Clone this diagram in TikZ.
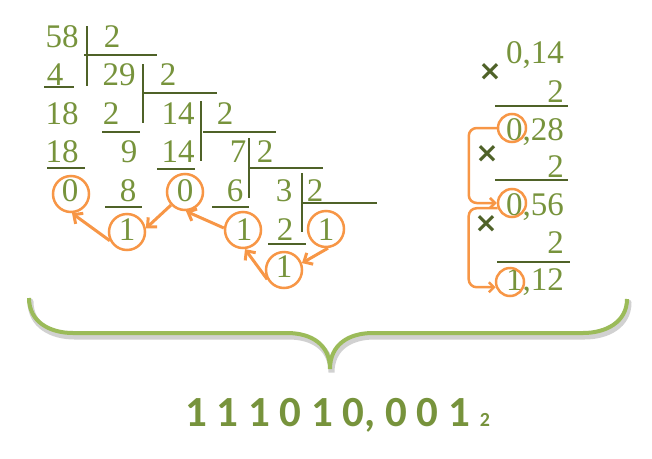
\documentclass[tikz,border=0pt]{standalone}
\usepackage{fontspec}
\setmainfont{Liberation Serif}
\newfontfamily\carlito{Carlito}
\newfontfamily\dejavu{DejaVu Sans}
\usetikzlibrary{arrows.meta}
\definecolor{txtgreen}{HTML}{77933C}
\definecolor{linegreen}{HTML}{4F6228}
\definecolor{bracegreen}{HTML}{9BBB59}
\definecolor{orng}{HTML}{F79646}
\begin{document}
\begin{tikzpicture}[x=1pt,y=-1pt,
  num/.style={text=txtgreen, font=\fontsize{33}{33}\selectfont, inner sep=0pt, anchor=base},
  rnum/.style={num, anchor=base east},
  rule/.style={draw=linegreen, line width=2.5pt},
  ring/.style={circle, draw=orng, line width=2.5pt, minimum size=36pt, inner sep=0pt},
  sring/.style={ring, minimum size=28pt},
  link/.style={draw=orng, line width=3pt, -{Straight Barb[length=7pt,width=13pt]}},
  slink/.style={draw=orng, line width=2.5pt, rounded corners=8pt, -{Straight Barb[length=5pt,width=10pt]}},
  timesign/.style={text=linegreen, font=\dejavu\bfseries\fontsize{28}{28}\selectfont, inner sep=0pt},
]
\path[use as bounding box] (0,0) rectangle (652,458);

% ---- long division texts
\node[num] (t58) at (62,47) {58};
\node[num] (d1) at (112,47) {2};
\node[num] (t4) at (55,85) {4};
\node[num] (t29) at (119,85) {29};
\node[num] (d2) at (168,85) {2};
\node[num] (t18a) at (62,124) {18};
\node[num] (t2a) at (111,124) {2};
\node[num] (t14a) at (178,124) {14};
\node[num] (d3) at (225,124) {2};
\node[num] (t18b) at (62,162) {18};
\node[num] (t9) at (129,162) {9};
\node[num] (t14b) at (178,162) {14};
\node[num] (t7) at (238,162) {7};
\node[num] (d4) at (265,162) {2};
\node[num] (t0a) at (70,201) {0};
\node[num] (t8) at (128,201) {8};
\node[num] (t0b) at (185,201) {0};
\node[num] (t6) at (235,201) {6};
\node[num] (t3) at (284,201) {3};
\node[num] (d5) at (315,201) {2};
\node[num] (t1a) at (127,240) {1};
\node[num] (t1b) at (244,240) {1};
\node[num] (t2b) at (285,240) {2};
\node[num] (t1c) at (326,240) {1};
\node[num] (t1d) at (284,277) {1};

% ---- division rules
\draw[rule] (87,26) -- (87,86);
\draw[rule] (84,55) -- (157,55);
\draw[rule] (44,87) -- (74,87);
\draw[rule] (143,64) -- (143,123);
\draw[rule] (143,93) -- (217,93);
\draw[rule] (102,132) -- (140,132);
\draw[rule] (201,101) -- (201,161);
\draw[rule] (203,132) -- (276,132);
\draw[rule] (47,168) -- (85,168);
\draw[rule] (157,169) -- (195,169);
\draw[rule] (249,138) -- (249,198);
\draw[rule] (249,168) -- (323,168);
\draw[rule] (105,207) -- (142,207);
\draw[rule] (212,207) -- (249,207);
\draw[rule] (302,173) -- (302,232);
\draw[rule] (303,203) -- (377,203);
\draw[rule] (268,244) -- (306,244);

% ---- rings
\node[ring] (c0a) at (71,194) {};
\node[ring] (c0b) at (185,192) {};
\node[ring] (c1a) at (127,232) {};
\node[ring] (c1b) at (243,230) {};
\node[ring] (c1c) at (326,229) {};
\node[ring] (c1d) at (284,270) {};

\draw[link] (c1a.207) -- (c0a.-87);
\draw[link] (c0b.223) -- (c1a.11);
\draw[link] (c1b.174) -- (c0b.-87);
\draw[link] (c1d.209) -- (c1b.-84);
\draw[link] (c1c.-84) -- (c1d.21);

% ---- multiplication
\node[timesign] (x1) at (490,72) {×};
\node[rnum] (r014) at (564,63) {0,14};
\node[rnum] (r2a) at (564,102) {2};
\draw[rule] (495,106) -- (568,106);
\node[rnum] (r028) at (564,140) {0,28};
\node[timesign] (x2) at (487,154) {×};
\node[rnum] (r2b) at (564,177) {2};
\draw[rule] (495,180) -- (568,180);
\node[rnum] (r056) at (564,215) {0,56};
\node[timesign] (x3) at (486,224) {×};
\node[rnum] (r2c) at (564,253) {2};
\draw[rule] (497,262) -- (570,262);
\node[rnum] (r112) at (564,290) {1,12};

\node[sring] (s1) at (512,128) {};
\node[sring] (s2) at (512,203) {};
\node[sring] (s3) at (510,282) {};
\draw[slink] (s1.west) -- ++(-28,0) |- (s2.west);
\draw[slink] (s2.200) -- ++(-29,0) |- (s3.200);

% ---- brace
\begin{scope}[shift={(1.5,3.5)}]
\draw[black, opacity=0.18, line width=6pt, line cap=round]
  (29,298) .. controls (29,322) and (50,333) .. (73,333) -- (287,333)
  .. controls (312,333) and (330,345) .. (330,369)
  .. controls (330,345) and (348,333) .. (373,333) -- (583,333)
  .. controls (606,333) and (627,322) .. (627,299);
\end{scope}
\draw[bracegreen, line width=4pt]
  (29,298) .. controls (29,322) and (50,333) .. (73,333) -- (287,333)
  .. controls (312,333) and (330,345) .. (330,369)
  .. controls (330,345) and (348,333) .. (373,333) -- (583,333)
  .. controls (606,333) and (627,322) .. (627,299);

\node[text=txtgreen, font=\carlito\bfseries\fontsize{43}{43}\selectfont, inner sep=0pt, anchor=base west] (res) at (185,426) {1 1 1 0 1 0, 0 0 1 {\fontsize{20}{20}\selectfont 2}};
\end{tikzpicture}
\end{document}
